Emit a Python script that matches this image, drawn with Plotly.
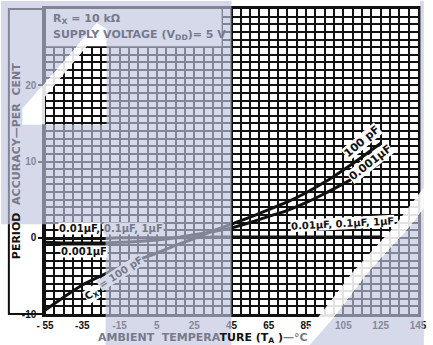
import plotly.graph_objects as go

# Ambient temperature (deg C) and period accuracy (per cent) for each timing capacitor
temps = [-55, -45, -35, -25, -15, -5, 5, 15, 25, 35, 45, 55, 65, 75, 85, 95, 105, 115, 125]
cx_100pf = [-9.5, -7.8, -6.2, -5.0, -3.9, -2.9, -2.0, -1.0, -0.1, 0.9, 1.8, 2.7, 3.7, 4.7, 5.9, 7.3, 8.9, 10.6, 12.4]
cx_0001uf = [-0.6, -0.7, -0.7, -0.7, -0.6, -0.5, -0.3, 0.0, 0.4, 0.8, 1.3, 2.0, 2.8, 3.6, 4.6, 5.8, 7.1, 8.4, 9.8]
cx_001uf = [-0.1, -0.1, -0.1, -0.1, 0.0, 0.0, 0.0, 0.0, 0.0, 0.1, 0.1, 0.1, 0.1, 0.1, 0.1, 0.1, 0.1, 0.1, 0.1]

x_ticks = [-55, -35, -15, 5, 25, 45, 65, 85, 105, 125, 145]
x_tick_text = ["- 55", "-35", "-15", "5", "25", "45", "65", "85", "105", "125", "145"]
y_ticks = [-10, 0, 10, 20]
y_tick_text = ["-10", "0", "10", "20"]

W, H = 433, 345
ML, MR, MT, MB = 45, 6, 8, 31
PW, PH = W - ML - MR, H - MT - MB

FONT = "DejaVu Sans"
TICK_FONT = "Liberation Sans"
INK = "#111111"
HAZE = "rgba(190,197,222,0.65)"        # translucent blue-grey wash
HAZE_INK = "rgb(118,122,140)"           # black ink seen through the wash
HAZE_PAPER = "rgb(213,217,231)"         # white paper seen through the wash
GLARE = "rgba(255,255,255,0.88)"
GRID_W = 1.5


def paper(x, y):
    """Pixel position on the page -> paper coordinates."""
    return (x - ML) / PW, (H - MB - y) / PH


def path(points, *holes):
    parts = []
    for ring in (points,) + holes:
        pts = [paper(x, y) for x, y in ring]
        parts.append("M " + " L ".join(f"{a:.5f},{b:.5f}" for a, b in pts) + " Z")
    return " ".join(parts)


fig = go.Figure()

for ys in (cx_001uf, cx_0001uf, cx_100pf):
    fig.add_trace(go.Scatter(
        x=temps, y=ys, mode="lines",
        line=dict(color=INK, width=3, shape="spline", smoothing=0.6),
        hoverinfo="skip", showlegend=False,
    ))

shapes = [
    # blank panel for the conditions text
    dict(type="rect", xref="x", yref="y", x0=-55, x1=39.7, y0=25.1, y1=30,
         fillcolor="white", line=dict(width=0), layer="between"),
    # heavy rule at 45 deg C
    dict(type="line", xref="x", yref="y", x0=45, x1=45, y0=-10, y1=30,
         line=dict(color=INK, width=2.5), layer="between"),
    # outer frame enclosing the y-axis title
    dict(type="rect", xref="paper", yref="paper", x0=paper(8, 0)[0], x1=0, y0=0, y1=1,
         line=dict(color=INK, width=2), fillcolor="rgba(0,0,0,0)", layer="above"),
]

# translucent wash across the sheet
wash = [
    path([(0, 0), (236, 0), (236, 345), (107, 345), (107, 224), (0, 224)],
         [(22, 124), (108, 124), (108, 28), (98, 22), (22, 108)]),
    path([(316, 345), (341, 317), (376, 272), (418, 227), (433, 208), (433, 345)]),
    path([(429, 0), (433, 0), (433, 208), (429, 212)]),
]
for p in wash:
    shapes.append(dict(type="path", xref="paper", yref="paper", path=p,
                       fillcolor=HAZE, line=dict(width=0), layer="above"))

glare = [
    path([(22, 124), (45, 124), (45, 96), (88, 45), (108, 32), (108, 28), (98, 22), (22, 108)]),
    path([(300, 345), (325, 317), (360, 272), (402, 227), (433, 187), (433, 208),
          (418, 227), (376, 272), (341, 317), (316, 345)]),
]
for p in glare:
    shapes.append(dict(type="path", xref="paper", yref="paper", path=p,
                       fillcolor=GLARE, line=dict(width=0), layer="above"))


def note(text, x, y, color=INK, bg=None, angle=0, size=11, xanchor="center", ref="data"):
    if ref == "px":
        x, y = paper(x, y)
        xr, yr = "paper", "paper"
    else:
        xr, yr = "x", "y"
    return dict(text=text, x=x, y=y, xref=xr, yref=yr, showarrow=False,
                textangle=angle, xanchor=xanchor, yanchor="middle",
                font=dict(family=FONT, size=size, color=color, weight="bold"),
                bgcolor=bg, borderpad=0)


annotations = [
    note("R<sub>X</sub> = 10 kΩ", 52, 18, HAZE_INK, xanchor="left", ref="px"),
    note("SUPPLY VOLTAGE (V<sub>DD</sub>)= 5 V", 52, 34, HAZE_INK, xanchor="left", ref="px"),
    note(f"<span style='color:{INK}'>PERIOD</span>  ACCURACY—PER  CENT", 16, 161,
         HAZE_INK, angle=-90, size=11, ref="px"),
    note(f"AMBIENT  TEMPERA<span style='color:{INK}'>TURE (T<sub>A</sub> )</span>—°C",
         207, 338, HAZE_INK, size=11, ref="px"),
    # curve labels
    note("0.01µF,", -24.8, 1.2, INK, "white", size=10, xanchor="right"),
    note("0.1µF, 1µF", -23.8, 1.2, HAZE_INK, HAZE_PAPER, size=10, xanchor="left"),
    note("0.001µF", -47.0, -1.8, INK, "white", size=10, xanchor="left"),
    note("C<sub>X</sub>", -30.0, -7.4, INK, "white", angle=-33, size=10),
    note("= 100 pF", -14.5, -4.6, HAZE_INK, HAZE_PAPER, angle=-33, size=10),
    note("0.01µF, 0.1µF, 1µF", 104.7, 1.9, INK, "white", angle=-3, size=10),
    note("100 pF", 115.0, 12.6, INK, "white", angle=-40, size=11),
    note("0.001µF", 119.5, 9.9, INK, "white", angle=-38, size=11),
]

axis_common = dict(showline=True, mirror=True, linecolor=INK, linewidth=2.5,
                   showgrid=True, gridcolor=INK, gridwidth=GRID_W, zeroline=False,
                   tickfont=dict(family=TICK_FONT, size=10, color=INK, weight="bold"))

fig.update_layout(
    width=W, height=H,
    margin=dict(l=ML, r=MR, t=MT, b=MB, pad=0),
    paper_bgcolor="white", plot_bgcolor="white",
    xaxis=dict(range=[-55, 145], tickvals=x_ticks, ticktext=x_tick_text,
               ticks="", ticklabeloverflow="allow",
               minor=dict(tick0=-55, dtick=5, showgrid=True, gridcolor=INK, gridwidth=GRID_W),
               **axis_common),
    yaxis=dict(range=[-10, 30], tickvals=y_ticks, ticktext=y_tick_text,
               ticks="outside", ticklen=4, tickwidth=1.5, tickcolor=INK,
               minor=dict(tick0=0, dtick=1, showgrid=True, gridcolor=INK, gridwidth=GRID_W),
               **axis_common),
    shapes=shapes,
    annotations=annotations,
)

fig.write_html("out.html")
